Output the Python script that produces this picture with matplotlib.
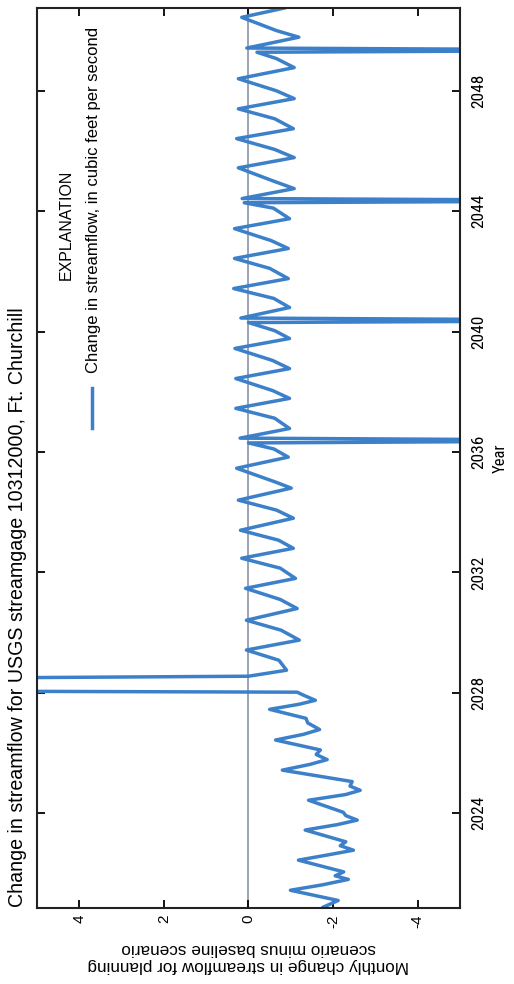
import matplotlib
matplotlib.use("Agg")
import matplotlib.pyplot as plt
from matplotlib import font_manager

# ---- data (vertices) ----
years = [
    2020.88, 2021.10, 2021.44, 2021.62, 2021.80, 2021.92, 2022.05,
    2022.44, 2022.62, 2022.77, 2022.92, 2023.05,
    2023.44, 2023.62, 2023.77, 2023.92, 2024.03,
    2024.43, 2024.62, 2024.76, 2024.90, 2025.05,
    2025.43, 2025.62, 2025.78, 2025.95, 2026.10,
    2026.43, 2026.62, 2026.78, 2027.00, 2027.15,
    2027.45, 2027.62, 2027.75, 2027.92, 2028.02,
    2028.06, 2028.48, 2028.55, 2028.75,
    2029.08, 2029.42, 2029.75, 2030.08, 2030.41, 2030.80,
    2031.10, 2031.47, 2031.80, 2032.14, 2032.47, 2032.80,
    2033.07, 2033.40, 2033.80, 2034.07, 2034.40, 2034.80,
    2035.00, 2035.46, 2035.83, 2036.10, 2036.30, 2036.38, 2036.46, 2036.78,
    2037.12, 2037.45, 2037.78, 2038.04, 2038.44, 2038.77,
    2039.04, 2039.44, 2039.77, 2040.03, 2040.30, 2040.37, 2040.45, 2040.80,
    2041.10, 2041.43, 2041.76, 2042.10, 2042.43, 2042.76,
    2043.02, 2043.42, 2043.75, 2044.10, 2044.28, 2044.35, 2044.42, 2044.75,
    2045.00, 2045.44, 2045.78, 2046.05, 2046.41, 2046.74,
    2047.07, 2047.40, 2047.74, 2048.00, 2048.40, 2048.77,
    2049.07, 2049.28, 2049.35, 2049.42, 2049.78,
    2050.00, 2050.44, 2050.75,
]
change = [
    -1.77, -2.12, -0.99, -1.75, -2.36, -2.05, -2.25,
    -1.18, -1.90, -2.48, -2.17, -2.30,
    -1.34, -2.10, -2.57, -2.30, -2.24,
    -1.42, -2.30, -2.64, -2.40, -2.45,
    -0.80, -1.45, -1.86, -1.60, -1.70,
    -0.64, -1.30, -1.68, -1.40, -1.36,
    -0.50, -1.20, -1.58, -1.30, -1.15,
    8.0, 8.0, 0.0, -0.90,
    -0.72, 0.05, -1.20, -0.77, 0.05, -1.15,
    -0.75, 0.07, -1.11, -0.75, 0.16, -1.06,
    -0.71, 0.19, -1.06, -0.66, 0.24, -1.01,
    -0.64, 0.28, -0.94, -0.60, 0.00, -10.0, 0.20, -0.97,
    -0.62, 0.30, -0.97, -0.57, 0.30, -0.97,
    -0.57, 0.32, -0.97, -0.62, 0.00, -10.0, 0.18, -0.97,
    -0.60, 0.35, -0.94, -0.50, 0.33, -0.94,
    -0.54, 0.33, -0.97, -0.59, 0.10, -10.0, 0.15, -1.08,
    -0.59, 0.24, -1.08, -0.62, 0.28, -1.06,
    -0.62, 0.24, -1.08, -0.66, 0.24, -1.08,
    -0.66, -0.20, -10.0, 0.04, -1.19,
    -0.66, 0.16, -0.85,
]
year_ticks = [2024, 2028, 2032, 2036, 2040, 2044, 2048]
value_ticks = [4, 2, 0, -2, -4]

title = "Change in streamflow for USGS streamgage 10312000, Ft. Churchill"
legend_title = "EXPLANATION"
legend_label = "Change in streamflow, in cubic feet per second"
value_label = "Monthly change in streamflow for planning\nscenario minus baseline scenario"
year_label = "Year"

# ---- style ----
names = {f.name for f in font_manager.fontManager.ttflist}
main = [n for n in ["Liberation Sans", "Arial"] if n in names] + ["DejaVu Sans"]
narrow = [n for n in ["Liberation Sans Narrow", "Roboto Condensed", "DejaVu Sans Condensed",
                      "Liberation Sans"] if n in names][:1] + ["DejaVu Sans"]
plt.rcParams['font.family'] = main
plt.rcParams['axes.unicode_minus'] = False

blue = "#3d80ca"
W, H = 514, 984
fig = plt.figure(figsize=(W / 100, H / 100), dpi=100)
ax = fig.add_axes([37 / W, 1 - 908 / H, (460 - 37) / W, (908 - 8) / H])

ax.axvline(0, color="#7d8aa2", lw=1.1, zorder=1)
ax.plot(change, years, color=blue, lw=2.5, solid_joinstyle="round", zorder=2)

ax.set_xlim(5, -5)
ax.set_ylim(2020.85, 2050.75)
ax.set_xticks(value_ticks)
ax.set_xticklabels([str(v) for v in value_ticks])
ax.set_yticks(year_ticks)
ax.set_yticklabels([str(y) for y in year_ticks])

for s in ax.spines.values():
    s.set_linewidth(1.5)
    s.set_color("#222222")

ax.tick_params(axis="x", direction="in", top=True, bottom=True, length=6, width=1.3,
               labelrotation=90, labelsize=11, pad=5)
ax.tick_params(axis="y", direction="in", left=True, right=True, length=6, width=1.3,
               labelleft=False, labelright=True, labelrotation=90, labelsize=12.5, pad=8)
for t in ax.yaxis.get_major_ticks():
    t.label2.set_family(narrow)
    t.label2.set_va("center")

ax.set_xlabel(value_label, rotation=180, fontsize=12.3, labelpad=9, linespacing=1.2)
ax.yaxis.set_label_position("right")
ax.set_ylabel(year_label, rotation=90, fontsize=12, labelpad=5, family=narrow)

# title (rotated, along the left edge)
fig.text(18 / W, 1 - 907 / H, title, rotation=90, ha="center", va="bottom", fontsize=14.1)

# legend / explanation
fig.text(66 / W, 1 - 225 / H, legend_title, rotation=90, ha="center", va="center", fontsize=11.5)
fig.lines.append(plt.Line2D([92 / W, 92 / W], [1 - 428 / H, 1 - 388 / H], transform=fig.transFigure,
                            color=blue, lw=2.5))
fig.text(94 / W, 1 - 373 / H, legend_label, rotation=90, ha="center", va="bottom", fontsize=12)

fig.savefig("out.png", dpi=100)
